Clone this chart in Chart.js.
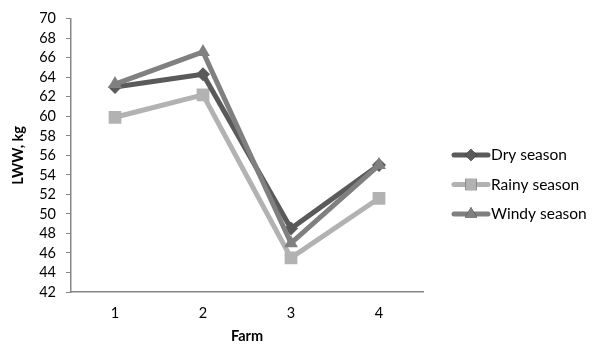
<!DOCTYPE html>
<html>
<head>
<meta charset="utf-8">
<script src="https://cdn.jsdelivr.net/npm/chart.js@4/dist/chart.umd.min.js"></script>
<style>
  html, body { margin: 0; padding: 0; background: #fff; }
  #wrap { width: 598px; height: 349px; }
</style>
</head>
<body>
<div id="wrap"><canvas id="c" width="598" height="349"></canvas></div>
<script>
// Live weight by farm and season
const farms = ['1', '2', '3', '4'];
const drySeason = [63.0, 64.3, 48.5, 55.0];
const rainySeason = [59.9, 62.2, 45.5, 51.6];
const windySeason = [63.3, 66.6, 47.0, 55.0];
const seriesNames = ['Dry season', 'Rainy season', 'Windy season'];

const FONT = 'Lato, "Open Sans", sans-serif';
const colors = ['#5a5a5a', '#b2b2b2', '#808080'];
const markers = ['rectRot', 'rect', 'triangle'];
const markerSizes = [7, 9, 8];

// Legend drawn at the right: a line sample with its marker, then the name
const sideLegend = {
  id: 'sideLegend',
  afterDraw(chart) {
    const ctx = chart.ctx;
    const x0 = 452, x1 = 490, yStart = 155, gap = 29.5;
    chart.data.datasets.forEach((ds, i) => {
      const y = yStart + i * gap;
      ctx.save();
      ctx.strokeStyle = ds.borderColor;
      ctx.lineWidth = 5;
      ctx.lineCap = 'round';
      ctx.beginPath();
      ctx.moveTo(x0 + 2, y);
      ctx.lineTo(x1 - 2, y);
      ctx.stroke();
      Chart.helpers.drawPoint(ctx, {
        pointStyle: ds.pointStyle,
        radius: ds.pointRadius - 1,
        rotation: 0,
        borderWidth: 0
      }, (x0 + x1) / 2, y);
      ctx.fillStyle = ds.pointBackgroundColor;
      ctx.fill();
      ctx.fillStyle = '#000';
      ctx.font = '15.5px ' + FONT;
      ctx.textBaseline = 'middle';
      ctx.textAlign = 'left';
      ctx.fillText(ds.label, x1 + 1, y);
      ctx.restore();
    });
  }
};

const seriesData = [drySeason, rainySeason, windySeason];

new Chart(document.getElementById('c'), {
  type: 'line',
  data: {
    labels: farms,
    datasets: seriesData.map((d, i) => ({
      label: seriesNames[i],
      data: d,
      borderColor: colors[i],
      backgroundColor: colors[i],
      pointBackgroundColor: colors[i],
      pointBorderColor: colors[i],
      pointBorderWidth: 0,
      pointStyle: markers[i],
      pointRadius: markerSizes[i],
      borderWidth: 5,
      tension: 0,
      order: [2, 3, 1][i]
    }))
  },
  options: {
    responsive: false,
    animation: false,
    layout: { padding: { left: 4, right: 175, top: 18, bottom: 4 } },
    plugins: {
      legend: { display: false },
      tooltip: { enabled: false }
    },
    scales: {
      x: {
        offset: true,
        grid: { display: false, drawTicks: false },
        border: { display: true, color: '#868686', width: 1.5 },
        ticks: { color: '#000', font: { family: FONT, size: 14.5 }, padding: 13 },
        title: { display: true, text: 'Farm', color: '#000', font: { family: FONT, size: 14.5, weight: 'bold' }, padding: { top: 4, bottom: 0 } },
        afterFit(scale) { scale.height = 53; }
      },
      y: {
        min: 42,
        max: 70,
        grid: { display: true, drawOnChartArea: false, drawTicks: true, tickLength: 5, color: '#868686', lineWidth: 1 },
        border: { display: true, color: '#868686', width: 1.5 },
        ticks: { stepSize: 2, autoSkip: false, color: '#000', font: { family: FONT, size: 14.5 }, padding: 10 },
        title: { display: true, text: 'LWW, kg', color: '#000', font: { family: FONT, size: 14.5, weight: 'bold' }, padding: { top: 6, bottom: 6 } },
        afterFit(scale) { scale.width = 67; }
      }
    }
  },
  plugins: [sideLegend]
});
</script>
</body>
</html>
